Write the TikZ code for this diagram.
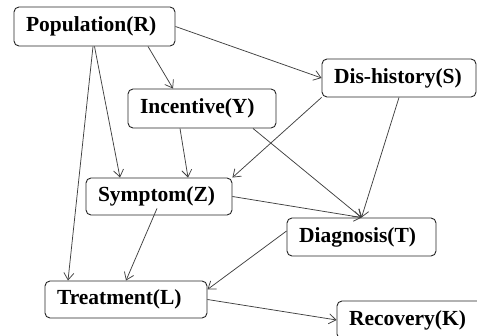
\documentclass[tikz,border=0pt]{standalone}
\usepackage{fontspec}
\setmainfont{Liberation Serif}
\usetikzlibrary{arrows.meta}
\tikzset{
  box/.style={draw=black!85, line width=0.9pt, rounded corners=5pt, fill=white,
    inner xsep=12pt, inner ysep=0pt, align=left, minimum height=#1,
    font=\fontsize{21.5}{23}\selectfont\bfseries},
  box/.default=38pt,
  edge/.style={draw=black!75, line width=0.75pt, -{Straight Barb[length=7pt,width=10pt]}}
}
\begin{document}
\begin{tikzpicture}[x=1pt,y=-1pt]
\useasboundingbox (0,0) rectangle (477,336);
\clip (0,0) rectangle (477,336);
\node[box=39pt, text width=137pt] (R) at (94.5,26.5) {Population(R)};
\node[box=39pt, text width=124pt] (Y) at (202,108.5) {Incentive(Y)};
\node[box=38pt, text width=130pt] (S) at (399,78) {Dis-history(S)};
\node[box=37pt, text width=122pt] (Z) at (159,196.5) {Symptom(Z)};
\node[box=37pt, text width=138pt] (L) at (126,299.5) {Treatment(L)};
\node[box=38pt, text width=125pt] (T) at (361.5,237) {Diagnosis(T)};
\node[box=38pt, text width=125pt] (K) at (411.5,320) {Recovery(K)};
\draw[edge] (R.east) -- (S.west);
\draw[edge] ([xshift=53.5pt]R.south) -- ([xshift=-29pt]Y.north);
\draw[edge] (R.south) -- ([xshift=-39pt]Z.north);
\draw[edge] ([xshift=-1.5pt]R.south) -- ([xshift=-58pt]L.north);
\draw[edge] ([xshift=-22pt]Y.south) -- ([xshift=29pt]Z.north);
\draw[edge] ([xshift=51pt]Y.south) -- (T.north);
\draw[edge] (S.south west) -- (Z.north east);
\draw[edge] (S.south) -- (T.north);
\draw[edge] (Z.east) -- (T.north);
\draw[edge] ([xshift=-2pt,yshift=7pt]Z.south) -- (L.north);
\draw[edge] ([yshift=6pt]T.west) -- ([yshift=10pt]L.east);
\draw[edge] (L.east) -- (K.west);
\end{tikzpicture}
\end{document}
